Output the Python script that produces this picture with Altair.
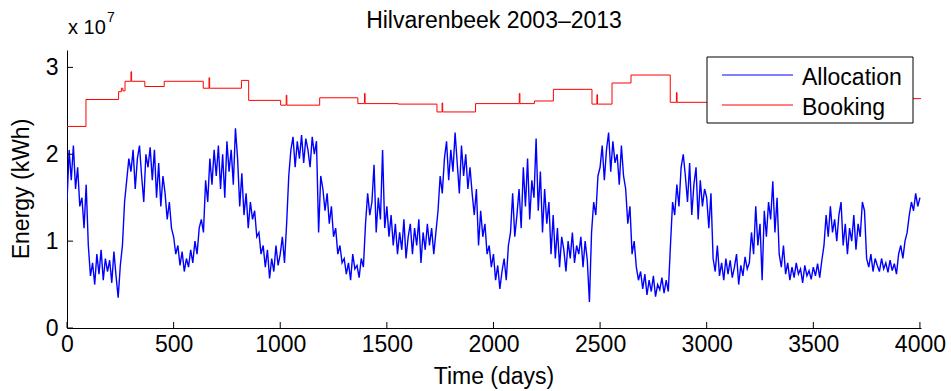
import altair as alt
import pandas as pd

# ---------------- data (energy in units of 1e7 kWh) ----------------
# Allocation, sampled every 10 days from day 0
allocation = [
    1.45, 2.05, 1.70, 2.10, 1.60, 1.85, 1.40, 1.50, 1.15, 1.65,
    0.95, 0.60, 0.75, 0.50, 0.85, 0.62, 0.90, 0.55, 0.80, 0.65,
    0.78, 0.52, 0.88, 0.60, 0.35, 0.72, 0.95, 1.45, 1.70, 1.95,
    1.80, 2.05, 1.60, 1.95, 2.10, 1.75, 1.45, 2.00, 1.85, 2.08,
    1.70, 2.05, 1.50, 1.90, 1.40, 1.75, 1.55, 1.25, 1.45, 1.15,
    1.05, 0.85, 0.95, 0.72, 0.88, 0.65, 0.80, 0.70, 0.90, 0.75,
    1.00, 0.85, 1.15, 1.25, 1.10, 1.70, 1.45, 1.95, 1.65, 2.05,
    1.75, 2.10, 1.60, 2.00, 1.50, 2.15, 1.80, 2.05, 1.65, 2.30,
    1.95, 1.40, 1.78, 1.30, 1.55, 1.15, 1.45, 1.25, 1.35, 1.05,
    1.10, 0.85, 0.95, 0.70, 0.90, 0.57, 0.80, 0.65, 0.95, 0.72,
    0.85, 1.05, 0.75, 1.20, 1.75, 2.05, 2.20, 1.85, 2.15, 1.95,
    2.22, 1.90, 2.18, 2.05, 1.85, 2.20, 2.00, 2.15, 1.10, 1.75,
    1.60, 1.35, 1.55, 1.20, 1.40, 1.05, 1.15, 0.85, 0.95, 0.75,
    0.80, 0.62, 0.75, 0.55, 0.85, 0.68, 0.72, 0.58, 0.80, 0.70,
    1.20, 1.55, 1.30, 1.45, 1.88, 1.10, 1.50, 1.25, 2.05, 1.15,
    1.40, 1.05, 1.30, 0.95, 1.20, 0.85, 1.10, 0.90, 1.25, 0.80,
    1.05, 1.20, 0.85, 1.15, 0.95, 1.25, 0.75, 1.10, 0.90, 1.20,
    0.95, 1.15, 0.85, 1.10, 1.35, 1.75, 1.55, 1.95, 2.15, 1.70,
    2.05, 1.80, 2.25, 1.90, 1.55, 2.10, 1.75, 2.00, 1.60, 1.85,
    1.55, 1.30, 1.60, 0.95, 1.35, 1.05, 1.20, 0.85, 0.95, 0.70,
    0.85, 0.55, 0.72, 0.45, 0.65, 0.80, 0.55, 0.95, 1.10, 1.55,
    1.05, 1.30, 1.60, 1.15, 1.85, 1.40, 1.95, 1.25, 1.70, 1.50,
    2.18, 1.35, 1.80, 1.10, 1.60, 1.20, 1.45, 0.85, 1.30, 0.80,
    1.15, 0.70, 1.05, 0.90, 0.65, 1.00, 0.80, 1.10, 0.75, 0.95,
    0.85, 1.05, 0.70, 1.00, 0.78, 0.30, 1.10, 1.45, 1.30, 1.75,
    1.85, 2.10, 1.70, 2.05, 2.25, 1.80, 2.15, 1.90, 2.00, 1.65,
    2.10, 1.75, 1.60, 1.20, 1.40, 0.85, 1.00, 0.70, 0.55, 0.65,
    0.45, 0.62, 0.38, 0.55, 0.42, 0.60, 0.36, 0.50, 0.44, 0.58,
    0.40, 0.55, 0.42, 0.95, 1.45, 1.30, 1.65, 1.40, 1.85, 2.00,
    1.75, 1.45, 1.90, 1.30, 1.65, 1.85, 1.25, 1.70, 1.40, 1.60,
    1.50, 1.15, 1.55, 0.80, 0.65, 0.95, 0.60, 0.75, 0.55, 0.80,
    0.62, 0.78, 0.58, 0.70, 0.85, 0.50, 0.72, 0.60, 0.82, 0.68,
    0.75, 1.10, 0.85, 1.40, 0.95, 1.20, 0.55, 1.35, 1.05, 1.45,
    1.25, 1.69, 1.10, 1.50, 0.85, 0.70, 0.95, 0.62, 0.75, 0.55,
    0.70, 0.58, 0.75, 0.62, 0.68, 0.52, 0.72, 0.60, 0.66, 0.56,
    0.70, 0.60, 0.74, 0.58, 0.78, 0.95, 1.30, 1.05, 1.40, 1.10,
    1.25, 1.00, 1.30, 1.45, 0.95, 1.20, 0.85, 1.15, 1.00, 1.30,
    0.90, 1.20, 1.05, 1.45, 1.35, 0.80, 0.70, 0.85, 0.65, 0.80,
    0.72, 0.65, 0.80, 0.68, 0.75, 0.64, 0.78, 0.66, 0.74, 0.62,
    0.85, 0.95, 0.80, 1.00, 1.10, 1.30, 1.45, 1.35, 1.55, 1.40,
    1.50,
]
alloc_day = [10 * i for i in range(len(allocation))]

# Booking: step changes (value holds until next change)
booking_day = [0, 89, 242, 255, 262, 272, 300, 303, 365, 456,
               639, 666, 669, 818, 852, 1002, 1028, 1031, 1185, 1364,
               1395, 1398, 1552, 1735, 1759, 1762, 1916, 2121, 2124, 2192,
               2281, 2462, 2485, 2488, 2556, 2645, 2829, 2858, 2861, 3400,
               4005]
booking_value = [2.32, 2.63, 2.72, 2.76, 2.73, 2.84, 2.95, 2.84, 2.78, 2.84,
                 2.76, 2.88, 2.76, 2.85, 2.62, 2.565, 2.68, 2.565, 2.65, 2.583,
                 2.70, 2.583, 2.577, 2.487, 2.59, 2.487, 2.583, 2.70, 2.583, 2.613,
                 2.747, 2.577, 2.686, 2.577, 2.82, 2.912, 2.598, 2.71, 2.598, 2.64,
                 2.64]

x_ticks = [0, 500, 1000, 1500, 2000, 2500, 3000, 3500, 4000]
y_ticks = [0, 1, 2, 3]
legend_labels = ["Allocation", "Booking"]
legend_colors = ["#0000ff", "#ff0000"]
title_text = "Hilvarenbeek 2003\u20132013"
x_title = "Time (days)"
y_title = "Energy (kWh)"

# ---------------- chart ----------------
FONT = "Liberation Sans"
FS = 23
W, H = 854, 278

xscale = alt.Scale(domain=[0, 4005], nice=False, zero=False)
yscale = alt.Scale(domain=[0, 3.2], nice=False)

xaxis = alt.Axis(values=x_ticks, format="d", ticks=False, tickSize=0, labelPadding=5,
                 labelFontSize=FS, labelFont=FONT, labelColor="black",
                 domainColor="black", domainWidth=1, grid=False, title=None,
                 labelFlush=False)
yaxis = alt.Axis(values=y_ticks, format="d", ticks=False, tickSize=0, labelPadding=9,
                 labelFontSize=FS, labelFont=FONT, labelColor="black",
                 domainColor="black", domainWidth=1, grid=False, title=None)

alloc_df = pd.DataFrame({"day": alloc_day, "energy": allocation})
book_df = pd.DataFrame({"day": booking_day, "energy": booking_value})

alloc_line = alt.Chart(alloc_df).mark_line(color="#0000ff", strokeWidth=1.4, clip=True).encode(
    x=alt.X("day:Q", scale=xscale, axis=xaxis),
    y=alt.Y("energy:Q", scale=yscale, axis=yaxis),
)
book_line = alt.Chart(book_df).mark_line(color="#ff0000", strokeWidth=1,
                                         interpolate="step-after", clip=True).encode(
    x=alt.X("day:Q", scale=xscale, axis=xaxis),
    y=alt.Y("energy:Q", scale=yscale, axis=yaxis),
)

xtick_marks = alt.Chart(pd.DataFrame({"day": x_ticks})).mark_rule(color="black", strokeWidth=1).encode(
    x=alt.X("day:Q", scale=xscale, axis=xaxis),
    y=alt.value(H), y2=alt.value(H - 6),
)
ytick_marks = alt.Chart(pd.DataFrame({"energy": y_ticks})).mark_rule(color="black", strokeWidth=1).encode(
    y=alt.Y("energy:Q", scale=yscale, axis=yaxis),
    x=alt.value(0), x2=alt.value(6),
)

legend_box = alt.Chart(pd.DataFrame({"k": ["box"]})).mark_rect(
    fill="white", stroke="black", strokeWidth=1).encode(
    x=alt.value(640), x2=alt.value(846), y=alt.value(7), y2=alt.value(73))

legend_layers = []
for i, (lab, col) in enumerate(zip(legend_labels, legend_colors)):
    d = pd.DataFrame({"label": [lab]})
    ly = 25 + 30 * i
    legend_layers.append(
        alt.Chart(d).mark_rule(color=col, strokeWidth=1).encode(
            x=alt.value(655), x2=alt.value(726), y=alt.value(ly)))
    legend_layers.append(
        alt.Chart(d).mark_text(align="left", baseline="alphabetic", font=FONT,
                               fontSize=FS, color="black").encode(
            x=alt.value(735), y=alt.value(ly + 10), text="label:N"))


def label(txt, x, y, size=FS, angle=0, align="center", baseline="alphabetic"):
    return alt.Chart(pd.DataFrame({"t": [txt]})).mark_text(
        font=FONT, fontSize=size, color="black", angle=angle, align=align,
        baseline=baseline).encode(x=alt.value(x), y=alt.value(y), text="t:N")


title_mark = label(title_text, W / 2, -22)
exp_base = label("x 10", 1, -16, size=20, align="left")
exp_sup = label("7", 40, -28, size=14, align="left")
xtitle_mark = label(x_title, W / 2, 334)
ytitle_mark = label(y_title, -45, H / 2, angle=270, baseline="middle")

chart = alt.layer(
    alloc_line, book_line, xtick_marks, ytick_marks, legend_box, *legend_layers,
    title_mark, exp_base, exp_sup, xtitle_mark, ytitle_mark,
).properties(
    width=W, height=H,
    autosize=alt.AutoSizeParams(type="none"),
    padding={"left": 67, "top": 50, "right": 30, "bottom": 63},
    background="white",
).configure_view(stroke=None)

chart.save("out.html", embed_options={"renderer": "svg", "actions": False})
